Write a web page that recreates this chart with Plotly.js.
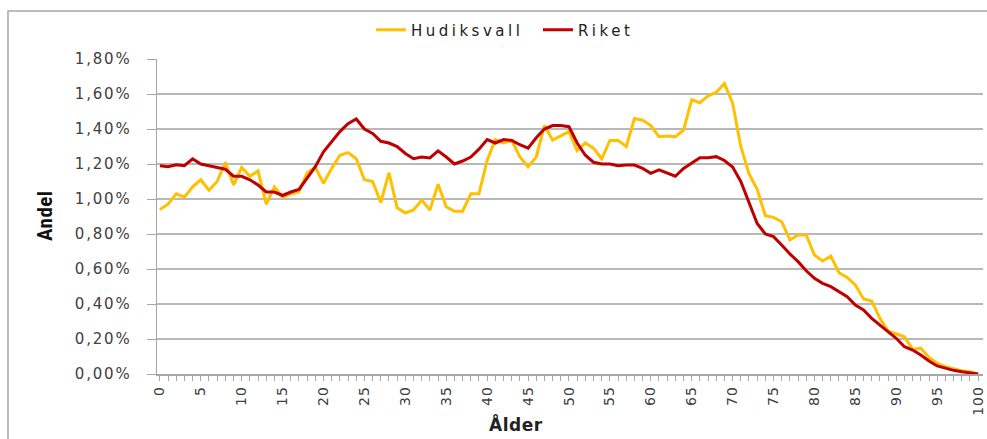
<!DOCTYPE html>
<html>
<head>
<meta charset="utf-8">
<script src="https://cdn.plot.ly/plotly-3.0.1.min.js"></script>
<style>
  html, body { margin: 0; padding: 0; background: #fff; }
  #chart { width: 987px; height: 439px; }
  .xtick text { letter-spacing: 1px; }
  .ytick text { letter-spacing: 1.8px; }
  .legendtext { letter-spacing: 3.5px; }
  .annotation-text { letter-spacing: 0.5px; }
</style>
</head>
<body>
<div id="chart"></div>
<script>
// Age categories 0..100
const ages = [0,1,2,3,4,5,6,7,8,9,10,11,12,13,14,15,16,17,18,19,20,21,22,23,24,25,26,27,28,29,30,31,32,33,34,35,36,37,38,39,40,41,42,43,44,45,46,47,48,49,50,51,52,53,54,55,56,57,58,59,60,61,62,63,64,65,66,67,68,69,70,71,72,73,74,75,76,77,78,79,80,81,82,83,84,85,86,87,88,89,90,91,92,93,94,95,96,97,98,99,100];

// Share of population (%) by age — Hudiksvall
const hudiksvall = [0.94,0.97,1.03,1.01,1.07,1.11,1.05,1.10,1.21,1.08,1.18,1.13,1.16,0.97,1.07,1.01,1.03,1.04,1.15,1.18,1.09,1.175,1.25,1.265,1.23,1.11,1.10,0.98,1.15,0.95,0.92,0.937,0.994,0.937,1.084,0.956,0.93,0.93,1.03,1.03,1.22,1.34,1.32,1.335,1.24,1.185,1.24,1.42,1.337,1.36,1.385,1.276,1.32,1.29,1.23,1.335,1.335,1.30,1.46,1.45,1.42,1.356,1.36,1.356,1.394,1.567,1.55,1.589,1.61,1.66,1.547,1.30,1.145,1.055,0.904,0.895,0.87,0.766,0.794,0.794,0.68,0.646,0.674,0.579,0.552,0.509,0.429,0.417,0.318,0.246,0.229,0.213,0.141,0.147,0.095,0.061,0.042,0.029,0.019,0.013,0.0];

// Share of population (%) by age — Riket (Sweden)
const riket = [1.19,1.185,1.195,1.19,1.23,1.20,1.19,1.18,1.17,1.13,1.13,1.11,1.08,1.04,1.04,1.02,1.04,1.055,1.12,1.185,1.27,1.33,1.385,1.43,1.457,1.40,1.375,1.33,1.32,1.30,1.26,1.23,1.24,1.235,1.275,1.24,1.20,1.217,1.24,1.285,1.34,1.32,1.34,1.335,1.31,1.29,1.35,1.40,1.42,1.42,1.413,1.32,1.25,1.21,1.20,1.20,1.19,1.194,1.194,1.175,1.147,1.166,1.15,1.13,1.175,1.207,1.236,1.236,1.242,1.22,1.183,1.10,0.98,0.86,0.80,0.785,0.737,0.686,0.642,0.59,0.547,0.518,0.499,0.47,0.442,0.394,0.366,0.318,0.28,0.242,0.204,0.156,0.137,0.109,0.074,0.046,0.032,0.021,0.013,0.007,0.0];

const xTickVals = [0,5,10,15,20,25,30,35,40,45,50,55,60,65,70,75,80,85,90,95,100];
const xTickText = ["0","5","10","15","20","25","30","35","40","45","50","55","60","65","70","75","80","85","90","95","100"];
const yTickVals = [0,0.2,0.4,0.6,0.8,1.0,1.2,1.4,1.6,1.8];
const yTickText = ["0,00%","0,20%","0,40%","0,60%","0,80%","1,00%","1,20%","1,40%","1,60%","1,80%"];

const seriesNames = ["Hudiksvall", "Riket"];
const xTitle = "Ålder";
const yTitle = "Andel";

const textColor = "#404040";
const baseFont = "DejaVu Sans, Open Sans, sans-serif";
const narrowFont = "Liberation Sans Narrow, Roboto Condensed, DejaVu Sans Condensed, sans-serif";

const traces = [
  { x: ages, y: hudiksvall, name: seriesNames[0], type: "scatter", mode: "lines",
    line: { color: "#FFC000", width: 3 } },
  { x: ages, y: riket, name: seriesNames[1], type: "scatter", mode: "lines",
    line: { color: "#C00000", width: 3 } }
];

const layout = {
  width: 987, height: 439,
  margin: { l: 157, r: 4, t: 59, b: 65, pad: 0 },
  paper_bgcolor: "#ffffff", plot_bgcolor: "#ffffff",
  font: { family: baseFont, size: 14, color: textColor },
  showlegend: true,
  legend: { orientation: "h", x: 0.4612, xanchor: "center", y: 1.092, yanchor: "middle",
    font: { family: baseFont, size: 15, color: "#222" }, itemwidth: 30, tracegroupgap: 0,
    entrywidth: 122, entrywidthmode: "pixels" },
  xaxis: {
    range: [-0.35, 100.6], tickmode: "array", tickvals: xTickVals, ticktext: xTickText,
    tickangle: -90, ticks: "outside", ticklen: 5, tickcolor: "#a6a6a6", tickwidth: 1,
    minor: { dtick: 1, tick0: 0, ticks: "outside", ticklen: 5, tickcolor: "#a6a6a6", tickwidth: 1, showgrid: false },
    showline: true, linecolor: "#a6a6a6", linewidth: 1.5, showgrid: false, zeroline: false,
    tickfont: { family: baseFont, size: 14, color: textColor }
  },
  yaxis: {
    range: [0, 1.8], tickmode: "array", tickvals: yTickVals, ticktext: yTickText,
    ticks: "outside", ticklen: 9, tickcolor: "#a6a6a6", tickwidth: 1, ticklabelstandoff: 12,
    showline: true, linecolor: "#a6a6a6", linewidth: 1.5,
    showgrid: true, gridcolor: "#b8b8b8", gridwidth: 1.5, zeroline: false,
    tickfont: { family: baseFont, size: 15, color: textColor }
  },
  annotations: [
    { text: xTitle, xref: "paper", yref: "paper", x: (516 - 157) / 826, y: (374 - 424) / 315,
      xanchor: "center", yanchor: "middle", showarrow: false,
      font: { family: baseFont, size: 17, color: "#222", weight: "bold" } },
    { text: yTitle, xref: "paper", yref: "paper", x: (45 - 157) / 826, y: (374 - 216) / 315,
      xanchor: "center", yanchor: "middle", showarrow: false, textangle: -90,
      font: { family: narrowFont, size: 21, color: "#111", weight: "bold" } }
  ],
  shapes: [
    { type: "rect", xref: "paper", yref: "paper", x0: -0.1804, x1: 1.02, y0: -0.4, y1: 1.152,
      line: { color: "#a6a6a6", width: 1.5 }, fillcolor: "rgba(0,0,0,0)", layer: "below" }
  ]
};

Plotly.newPlot("chart", traces, layout, { displayModeBar: false, staticPlot: true });
</script>
</body>
</html>
